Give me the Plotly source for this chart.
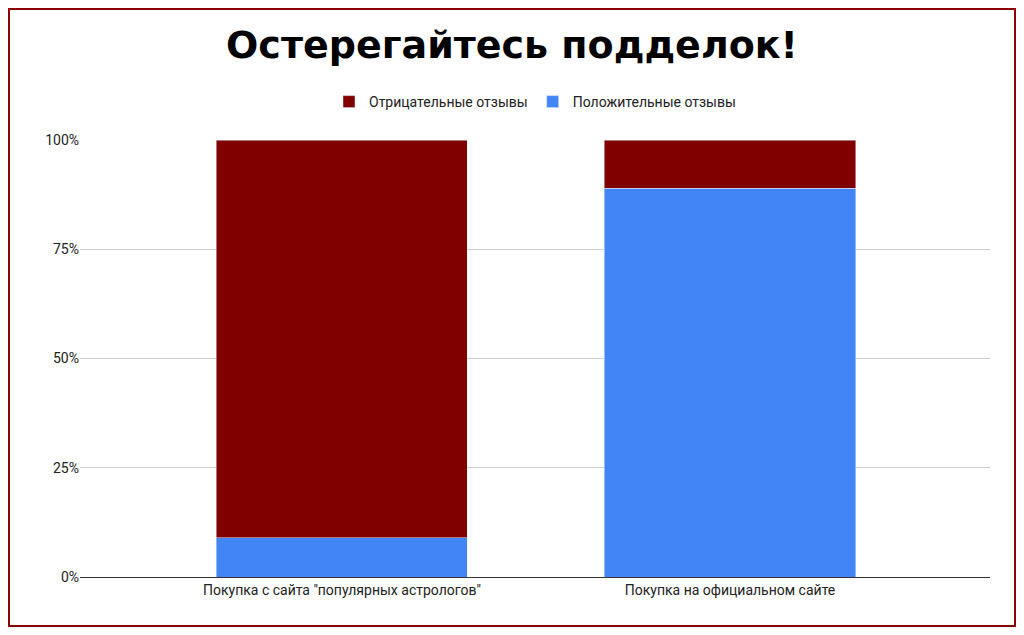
import plotly.graph_objects as go

categories = ['Покупка с сайта "популярных астрологов"', 'Покупка на официальном сайте']
positive = [0.09, 0.89]
negative = [0.91, 0.11]
xpos = list(range(len(categories)))

W, H = 1008, 619
L, R, T, B = 72, 26, 132, 50
pw, ph = W - L - R, H - T - B

fig = go.Figure()
fig.add_bar(x=xpos, y=positive, name="Положительные отзывы", marker_color="#4285f4", width=0.647)
fig.add_bar(x=xpos, y=negative, name="Отрицательные отзывы", marker_color="#800000", width=0.647)
fig.update_layout(
    width=W, height=H, barmode="stack",
    margin=dict(l=L, r=R, t=T, b=B),
    plot_bgcolor="white", paper_bgcolor="white",
    font=dict(family="Roboto, Arial", size=14, color="#222"),
    title=dict(text="<b>Остерегайтесь подделок!</b>", x=0.5, xanchor="center", y=1 - 37 / H, yanchor="middle",
               font=dict(family="DejaVu Sans", size=38, color="black")),
    legend=dict(orientation="h", x=0.5, xanchor="center", y=1 + (T - 94) / ph, yanchor="middle",
                traceorder="reversed", font=dict(size=14)),
    yaxis=dict(range=[0, 1], tickformat=".0%", tickvals=[0, 0.25, 0.5, 0.75, 1],
               gridcolor="#cccccc", zeroline=False),
    xaxis=dict(range=[-0.675, 1.67], tickvals=xpos, ticktext=categories,
               showline=True, linecolor="#333", linewidth=1, showgrid=False, zeroline=False),
    shapes=[dict(type="rect", xref="paper", yref="paper",
                 x0=(-L + 1) / pw, x1=1 + (R - 1) / pw, y0=(-B + 1) / ph, y1=1 + (T - 1) / ph,
                 line=dict(color="#8b0000", width=2))],
)
fig.write_html("out.html")
